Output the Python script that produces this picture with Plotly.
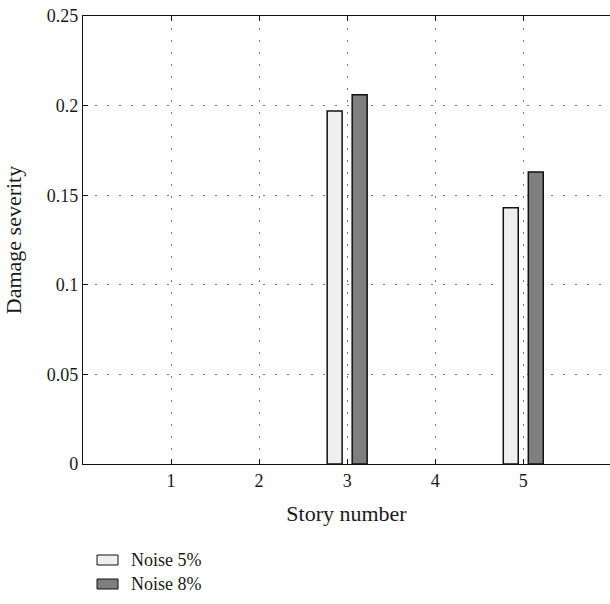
import plotly.graph_objects as go

# Story numbers and identified damage severity for two noise levels
stories = [1, 2, 3, 4, 5]
noise_5 = [0.0, 0.0, 0.197, 0.0, 0.143]
noise_8 = [0.0, 0.0, 0.206, 0.0, 0.163]
series_names = ["Noise 5%", "Noise 8%"]
y_ticks = [0, 0.05, 0.1, 0.15, 0.2, 0.25]
y_tick_text = ["0", "0.05", "0.1", "0.15", "0.2", "0.25"]

light = "#eef0ee"
dark = "#7f7f7f"
font = dict(family="Liberation Serif, Times New Roman, serif", size=18, color="#1a1a1a")
grid_dash = "2px,10px"

fig = go.Figure()
bar_w = 0.17
for vals, name, color, off in [(noise_5, series_names[0], light, -0.142),
                               (noise_8, series_names[1], dark, 0.142)]:
    # zero-severity stories carry no bar at all
    shown = [v if v > 0 else None for v in vals]
    fig.add_trace(go.Bar(
        x=stories, y=shown, name=name, width=bar_w, offset=off - bar_w / 2,
        marker=dict(color=color, line=dict(color="#111", width=1.5)),
        showlegend=False,
    ))

fig.update_layout(
    width=610, height=604,
    margin=dict(l=83, r=0, t=16, b=140),
    plot_bgcolor="white", paper_bgcolor="white",
    barmode="overlay",
    font=font,
)
fig.update_xaxes(
    range=[0, 5.985], tickvals=stories, ticktext=[str(s) for s in stories],
    showline=True, linecolor="#111", linewidth=1.2, mirror="ticks",
    ticks="inside", ticklen=5, tickcolor="#111",
    showgrid=True, gridcolor="#777", griddash=grid_dash, gridwidth=1,
    zeroline=False,
    title=dict(text="Story number", standoff=15),
)
fig.update_yaxes(
    range=[0, 0.25], tickvals=y_ticks, ticktext=y_tick_text,
    showline=True, linecolor="#111", linewidth=1.2, mirror=False,
    ticks="inside", ticklen=5, tickcolor="#111",
    showgrid=True, gridcolor="#777", griddash=grid_dash, gridwidth=1,
    zeroline=False,
    title=dict(text="Damage severity", standoff=19),
)

# Legend drawn below the axes: swatch box plus label for each series
legend_rows = [(series_names[0], light, 560), (series_names[1], dark, 584)]
W = 610
for name, color, yc in legend_rows:
    fig.add_shape(
        type="rect", xref="paper", yref="paper",
        x0=(97 - 83) / (W - 83), x1=(118 - 83) / (W - 83),
        y0=(464 - (yc + 5)) / 448, y1=(464 - (yc - 5)) / 448,
        fillcolor=color, line=dict(color="#111", width=1),
    )
    fig.add_annotation(
        xref="paper", yref="paper", x=(129 - 83) / (W - 83), y=(464 - yc) / 448,
        text=name, showarrow=False, xanchor="left", yanchor="middle", font=font,
    )

fig.write_html("out.html")
